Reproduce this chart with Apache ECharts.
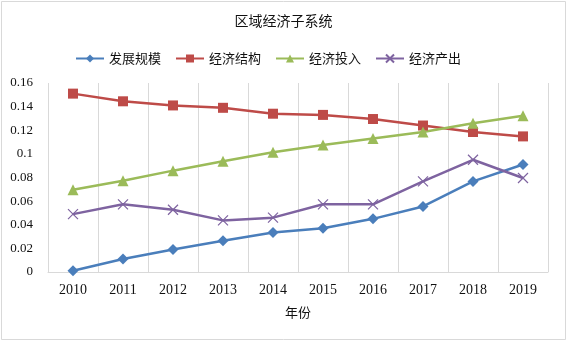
<!DOCTYPE html>
<html>
<head>
<meta charset="utf-8">
<script src="https://cdn.jsdelivr.net/npm/echarts@6/dist/echarts.min.js"></script>
<style>
  html, body { margin: 0; padding: 0; background: #fff; }
  #main { width: 567px; height: 341px; }
</style>
</head>
<body>
<div id="main"></div>
<script>
// 数据
const years = ['2010', '2011', '2012', '2013', '2014', '2015', '2016', '2017', '2018', '2019'];
const scale = [0.001, 0.011, 0.019, 0.0265, 0.0335, 0.037, 0.045, 0.0555, 0.0767, 0.091];
const structure = [0.151, 0.1445, 0.141, 0.139, 0.134, 0.133, 0.1295, 0.124, 0.1185, 0.1148];
const input = [0.0697, 0.0773, 0.0858, 0.0937, 0.1013, 0.1075, 0.113, 0.1185, 0.126, 0.1323];
const output = [0.049, 0.0573, 0.0527, 0.0437, 0.046, 0.0573, 0.0573, 0.0767, 0.095, 0.0796];

const serif = '"Liberation Serif", "Times New Roman", serif';
const cjk = '"Noto Sans CJK SC", sans-serif';

function lineSeries(name, data, color, symbol, size) {
  return {
    name: name,
    type: 'line',
    data: data,
    symbol: symbol,
    symbolSize: size,
    lineStyle: { color: color, width: 2.5 },
    itemStyle: { color: color, borderColor: color, borderWidth: symbol.indexOf('path://') === 0 ? 1.2 : 0 },
    emphasis: { disabled: true },
    animation: false
  };
}

const chart = echarts.init(document.getElementById('main'), null, { renderer: 'canvas' });
chart.setOption({
  backgroundColor: '#fff',
  graphic: [{
    type: 'rect',
    shape: { x: 1.5, y: 1.5, width: 564, height: 338 },
    style: { fill: 'none', stroke: '#d9d9d9', lineWidth: 1 },
    silent: true
  }],
  title: {
    text: '区域经济子系统',
    left: 'center',
    top: 9,
    textStyle: { fontFamily: cjk, fontSize: 14, fontWeight: 'normal', color: '#111' }
  },
  legend: {
    left: 70,
    top: 47,
    itemWidth: 28,
    itemHeight: 10,
    itemGap: 14,
    textStyle: { fontFamily: cjk, fontSize: 13, color: '#111' },
    data: ['发展规模', '经济结构', '经济投入', '经济产出']
  },
  grid: { left: 48, right: 19, top: 83, bottom: 69, containLabel: false },
  xAxis: {
    type: 'category',
    data: years,
    boundaryGap: true,
    name: '年份',
    nameLocation: 'middle',
    nameGap: 34,
    nameTextStyle: { fontFamily: cjk, fontSize: 13, color: '#111' },
    axisLine: { lineStyle: { color: '#d9d9d9', width: 1 } },
    axisTick: { show: false },
    axisLabel: { fontFamily: serif, fontSize: 14, color: '#111', margin: 11 },
    splitLine: { show: true, lineStyle: { color: '#d9d9d9', width: 1 } }
  },
  yAxis: {
    type: 'value',
    min: 0,
    max: 0.16,
    interval: 0.02,
    axisLine: { show: false },
    axisTick: { show: false },
    splitLine: { show: false },
    axisLabel: {
      fontFamily: serif,
      fontSize: 13,
      color: '#111',
      margin: 15,
      formatter: v => String(parseFloat(v.toFixed(2)))
    }
  },
  series: [
    lineSeries('发展规模', scale, '#4A7EBB', 'diamond', 11),
    lineSeries('经济结构', structure, '#BE4B48', 'rect', 10),
    lineSeries('经济投入', input, '#9BBB59', 'triangle', 11),
    lineSeries('经济产出', output, '#7E63A0', 'path://M0,0L10,10M10,0L0,10', 10)
  ]
});
</script>
</body>
</html>
